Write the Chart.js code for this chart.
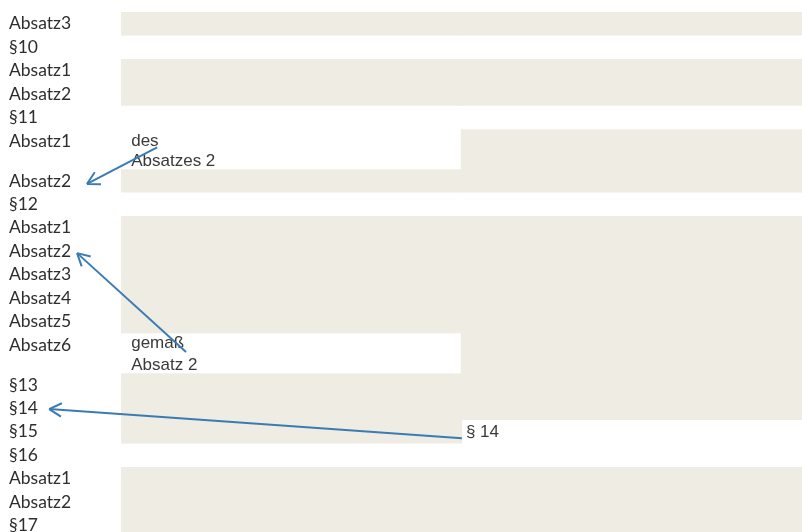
<!DOCTYPE html>
<html>
<head>
<meta charset="utf-8">
<script src="https://cdn.jsdelivr.net/npm/chart.js@4.4.0/dist/chart.umd.min.js"></script>
<style>
  html, body { margin: 0; padding: 0; background: #fff; }
  #wrap { width: 802px; height: 532px; }
</style>
</head>
<body>
<div id="wrap"><canvas id="chart"></canvas></div>
<script>
// rows of the outline, top to bottom
const rowLabels = ['Absatz3', '§10', 'Absatz1', 'Absatz2', '§11', 'Absatz1', 'Absatz2', '§12',
  'Absatz1', 'Absatz2', 'Absatz3', 'Absatz4', 'Absatz5', 'Absatz6', '§13', '§14', '§15', '§16',
  'Absatz1', 'Absatz2', '§17'];
// row height in row units (two rows hold a two-line note)
const rowHeights = [1, 1, 1, 1, 1, 1.7, 1, 1, 1, 1, 1, 1, 1, 1.7, 1, 1, 1, 1, 1, 1, 1];
// shaded cells, left column and right column
const shadeLeft  = [1, 0, 1, 1, 0, 0, 1, 0, 1, 1, 1, 1, 1, 0, 1, 1, 1, 0, 1, 1, 1];
const shadeRight = [1, 0, 1, 1, 0, 1, 1, 0, 1, 1, 1, 1, 1, 1, 1, 1, 0, 0, 1, 1, 1];

// notes in the white cells (x in column units, y in row units)
const noteText = ['des', 'Absatzes 2', 'gemaß', 'Absatz 2', '§ 14'];
const noteX = [0.03, 0.03, 0.03, 0.03, 1.013];
const noteY = [5.71, 6.57, 14.33, 15.27, 18.12];

// cross reference arrows, tail -> head
const arrowFrom = [{x: 0.106, y: 5.77}, {x: 0.191, y: 14.5}, {x: 1.001, y: 18.17}];
const arrowTo   = [{x: -0.1, y: 7.33}, {x: -0.129, y: 10.28}, {x: -0.211, y: 16.93}];

const rowTops = [];
let total = 0;
rowHeights.forEach(h => { rowTops.push(total); total += h; });
const tickValues = rowTops.map(t => t + 0.5);

// merge consecutive shaded rows into one block
function blocks(shade) {
  const out = [];
  let start = null;
  shade.forEach((s, i) => {
    if (s && start === null) start = rowTops[i];
    if (!s && start !== null) { out.push([start, rowTops[i]]); start = null; }
  });
  if (start !== null) out.push([start, total]);
  return out;
}

const leftBlocks = blocks(shadeLeft);
const rightBlocks = blocks(shadeRight);
const datasets = [];

for (let i = 0; i < Math.max(leftBlocks.length, rightBlocks.length); i++) {
  const d = [];
  if (leftBlocks[i]) d.push({x: 0.5, y: leftBlocks[i]});
  if (rightBlocks[i]) d.push({x: 1.5, y: rightBlocks[i]});
  datasets.push({
    type: 'bar',
    data: d,
    backgroundColor: '#efece3',
    borderWidth: 0,
    grouped: false,
    barPercentage: 1.004,
    categoryPercentage: 1,
    order: 2
  });
}

arrowFrom.forEach((p, i) => {
  datasets.push({
    type: 'line',
    data: [p, arrowTo[i]],
    borderColor: '#3b7bb3',
    borderWidth: 2,
    pointRadius: 0,
    fill: false,
    tension: 0,
    clip: false,
    order: 0,
    arrowHead: true
  });
});

const notesAndArrows = {
  id: 'notesAndArrows',
  beforeDatasetsDraw(chart) {
    const {ctx, scales: {x, y}} = chart;
    ctx.save();
    ctx.font = '17px "Liberation Sans", Arial, sans-serif';
    ctx.fillStyle = '#3a3a3a';
    ctx.textBaseline = 'alphabetic';
    noteText.forEach((t, i) => {
      ctx.fillText(t, x.getPixelForValue(noteX[i]), y.getPixelForValue(noteY[i]));
    });
    ctx.restore();
  },
  afterDatasetsDraw(chart) {
    const ctx = chart.ctx;
    ctx.save();
    ctx.strokeStyle = '#3b7bb3';
    ctx.lineWidth = 2;
    chart.data.datasets.forEach((ds, i) => {
      if (!ds.arrowHead) return;
      const pts = chart.getDatasetMeta(i).data;
      const a = pts[0], b = pts[pts.length - 1];
      const ang = Math.atan2(b.y - a.y, b.x - a.x);
      ctx.beginPath();
      [-1, 1].forEach(s => {
        ctx.moveTo(b.x, b.y);
        ctx.lineTo(b.x - 14 * Math.cos(ang + s * 0.5), b.y - 14 * Math.sin(ang + s * 0.5));
      });
      ctx.stroke();
    });
    ctx.restore();
  }
};

new Chart(document.getElementById('chart'), {
  type: 'bar',
  data: { datasets: datasets },
  options: {
    responsive: true,
    maintainAspectRatio: false,
    animation: false,
    layout: { padding: { left: 9, right: 0, top: 0, bottom: 0 } },
    plugins: { legend: { display: false }, tooltip: { enabled: false } },
    scales: {
      x: {
        type: 'linear', min: 0, max: 2, offset: false, display: false,
        ticks: { stepSize: 1 }
      },
      y: {
        type: 'linear', reverse: true, min: -0.512, max: 22.17,
        afterBuildTicks: s => { s.ticks = tickValues.map(v => ({value: v})); },
        afterFit: s => { s.width = 112; s.paddingTop = 0; s.paddingBottom = 0; },
        grid: { display: false },
        border: { display: false },
        ticks: {
          autoSkip: false,
          crossAlign: 'far',
          padding: 0,
          color: '#2e2e2e',
          font: { family: 'Lato', size: 17.5 },
          callback: (v, i) => rowLabels[i]
        }
      }
    }
  },
  plugins: [notesAndArrows]
});
</script>
</body>
</html>
